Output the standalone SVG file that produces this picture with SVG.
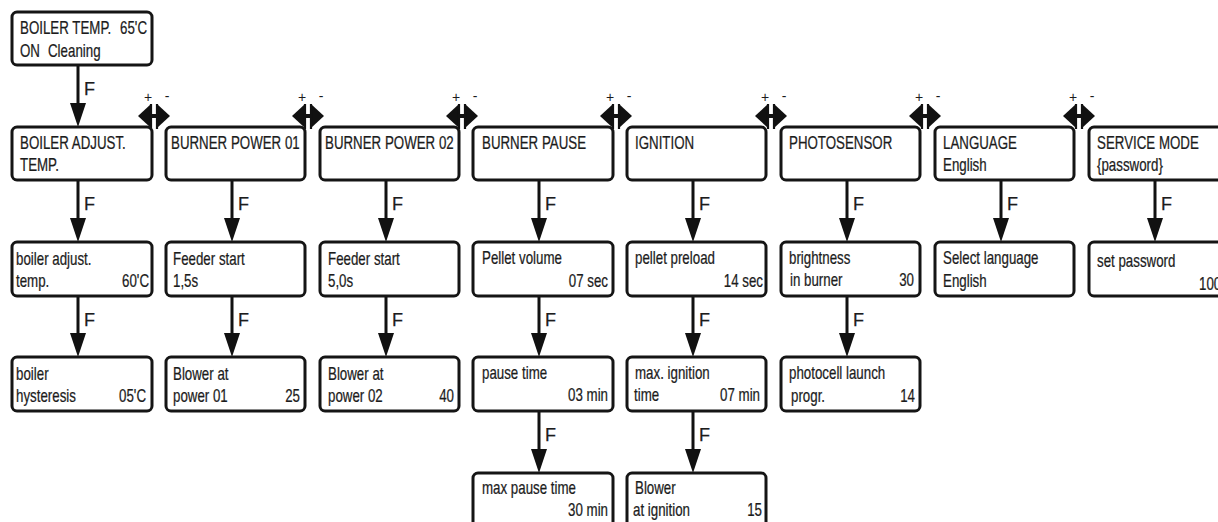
<svg xmlns="http://www.w3.org/2000/svg" width="1218" height="522" viewBox="0 0 1218 522">
<style>
.box{fill:#fff;stroke:#151515;stroke-width:3}
.t{font-family:"Liberation Sans",Arial,sans-serif;font-size:18px;fill:#1c1c1c;stroke:#1c1c1c;stroke-width:0.25}
.e{text-anchor:end}
.pm{font-family:"Liberation Sans",Arial,sans-serif;font-size:14px;fill:#1c1c1c;text-anchor:middle}
.ln{stroke:#111;stroke-width:3;fill:none}
.hd{fill:#111}
.hb{stroke:#111;stroke-width:2.2;fill:none}
</style>
<defs>
<g id="dbl"><polygon class="hd" points="0,116 13,104 13,128"/><polygon class="hd" points="32,116 19,104 19,128"/><path class="hb" d="M13 104V129M19 104V129"/><path d="M13 116H19" stroke="#111" stroke-width="4"/></g>
</defs>
<g id="connectors">
<path class="ln" d="M78 65V105M78 180V220M232 180V220M386 180V220M539 180V220M693 180V220M847 180V220M1001 180V220M1155 180V220M78 296V336M232 296V336M386 296V336M539 296V336M693 296V336M847 296V336M539 411V451M693 411V451"/>
<g class="hd">
<polygon points="70,103 86,103 78,127"/>
<polygon points="70,218 86,218 78,242"/><polygon points="224,218 240,218 232,242"/><polygon points="378,218 394,218 386,242"/><polygon points="531,218 547,218 539,242"/><polygon points="685,218 701,218 693,242"/><polygon points="839,218 855,218 847,242"/><polygon points="993,218 1009,218 1001,242"/><polygon points="1147,218 1163,218 1155,242"/>
<polygon points="70,333 86,333 78,357"/><polygon points="224,333 240,333 232,357"/><polygon points="378,333 394,333 386,357"/><polygon points="531,333 547,333 539,357"/><polygon points="685,333 701,333 693,357"/><polygon points="839,333 855,333 847,357"/>
<polygon points="531,449 547,449 539,473"/><polygon points="685,449 701,449 693,473"/>
</g>
<g class="t">
<text x="84" y="95">F</text>
<text x="84" y="210">F</text><text x="238" y="210">F</text><text x="392" y="210">F</text><text x="545" y="210">F</text><text x="699" y="210">F</text><text x="853" y="210">F</text><text x="1007" y="210">F</text><text x="1161" y="210">F</text>
<text x="84" y="326">F</text><text x="238" y="326">F</text><text x="392" y="326">F</text><text x="545" y="326">F</text><text x="699" y="326">F</text><text x="853" y="326">F</text>
<text x="545" y="441">F</text><text x="699" y="441">F</text>
</g>
<g id="nav">
<use href="#dbl" x="138"/><use href="#dbl" x="292"/><use href="#dbl" x="446"/><use href="#dbl" x="600"/><use href="#dbl" x="755"/><use href="#dbl" x="909"/><use href="#dbl" x="1063"/>
<text class="pm" x="148" y="102">+</text><text class="pm" x="167" y="101">-</text>
<text class="pm" x="302" y="102">+</text><text class="pm" x="321" y="101">-</text>
<text class="pm" x="456" y="102">+</text><text class="pm" x="475" y="101">-</text>
<text class="pm" x="610" y="102">+</text><text class="pm" x="629" y="101">-</text>
<text class="pm" x="765" y="102">+</text><text class="pm" x="784" y="101">-</text>
<text class="pm" x="919" y="102">+</text><text class="pm" x="938" y="101">-</text>
<text class="pm" x="1073" y="102">+</text><text class="pm" x="1092" y="101">-</text>
</g>
</g>

<g id="n-top"><rect class="box" x="12" y="12" width="140" height="53" rx="5"/>
<text class="t" transform="translate(20 34) scale(0.74 1)">BOILER TEMP.</text>
<text class="t e" transform="translate(147 34) scale(0.74 1)">65'C</text>
<text class="t" transform="translate(20 57) scale(0.74 1)">ON</text>
<text class="t" transform="translate(48 57) scale(0.74 1)">Cleaning</text></g>

<g id="n-r2c1"><rect class="box" x="12" y="127" width="140" height="53" rx="5"/>
<text class="t" transform="translate(20 149) scale(0.74 1)">BOILER ADJUST.</text>
<text class="t" transform="translate(20 171) scale(0.74 1)">TEMP.</text></g>
<g id="n-r2c2"><rect class="box" x="166" y="127" width="139" height="53" rx="5"/>
<text class="t" transform="translate(171 149) scale(0.74 1)">BURNER POWER 01</text></g>
<g id="n-r2c3"><rect class="box" x="320" y="127" width="139" height="53" rx="5"/>
<text class="t" transform="translate(325 149) scale(0.74 1)">BURNER POWER 02</text></g>
<g id="n-r2c4"><rect class="box" x="473" y="127" width="140" height="53" rx="5"/>
<text class="t" transform="translate(482 149) scale(0.74 1)">BURNER PAUSE</text></g>
<g id="n-r2c5"><rect class="box" x="627" y="127" width="139" height="53" rx="5"/>
<text class="t" transform="translate(635 149) scale(0.74 1)">IGNITION</text></g>
<g id="n-r2c6"><rect class="box" x="781" y="127" width="139" height="53" rx="5"/>
<text class="t" transform="translate(789 149) scale(0.74 1)">PHOTOSENSOR</text></g>
<g id="n-r2c7"><rect class="box" x="935" y="127" width="139" height="53" rx="5"/>
<text class="t" transform="translate(943 149) scale(0.74 1)">LANGUAGE</text>
<text class="t" transform="translate(943 171) scale(0.74 1)">English</text></g>
<g id="n-r2c8"><rect class="box" x="1089" y="127" width="145" height="53" rx="5"/>
<text class="t" transform="translate(1097 149) scale(0.74 1)">SERVICE MODE</text>
<text class="t" transform="translate(1097 171) scale(0.74 1)">{password}</text></g>

<g id="n-r3c1"><rect class="box" x="12" y="242" width="140" height="54" rx="5"/>
<text class="t" transform="translate(16 265) scale(0.74 1)">boiler adjust.</text>
<text class="t" transform="translate(16 287) scale(0.74 1)">temp.</text>
<text class="t e" transform="translate(149 287) scale(0.74 1)">60'C</text></g>
<g id="n-r3c2"><rect class="box" x="166" y="242" width="139" height="54" rx="5"/>
<text class="t" transform="translate(173 265) scale(0.74 1)">Feeder start</text>
<text class="t" transform="translate(173 287) scale(0.74 1)">1,5s</text></g>
<g id="n-r3c3"><rect class="box" x="320" y="242" width="139" height="54" rx="5"/>
<text class="t" transform="translate(328 265) scale(0.74 1)">Feeder start</text>
<text class="t" transform="translate(328 287) scale(0.74 1)">5,0s</text></g>
<g id="n-r3c4"><rect class="box" x="473" y="242" width="140" height="54" rx="5"/>
<text class="t" transform="translate(482 264) scale(0.74 1)">Pellet volume</text>
<text class="t e" transform="translate(608 287) scale(0.74 1)">07 sec</text></g>
<g id="n-r3c5"><rect class="box" x="627" y="242" width="139" height="54" rx="5"/>
<text class="t" transform="translate(635 264) scale(0.74 1)">pellet preload</text>
<text class="t e" transform="translate(763 287) scale(0.74 1)">14 sec</text></g>
<g id="n-r3c6"><rect class="box" x="781" y="242" width="139" height="54" rx="5"/>
<text class="t" transform="translate(789 264) scale(0.74 1)">brightness</text>
<text class="t" transform="translate(790 286) scale(0.74 1)">in burner</text>
<text class="t e" transform="translate(914 286) scale(0.74 1)">30</text></g>
<g id="n-r3c7"><rect class="box" x="935" y="242" width="139" height="54" rx="5"/>
<text class="t" transform="translate(943 264) scale(0.74 1)">Select language</text>
<text class="t" transform="translate(943 287) scale(0.74 1)">English</text></g>
<g id="n-r3c8"><rect class="box" x="1089" y="242" width="145" height="54" rx="5"/>
<text class="t" transform="translate(1097 267) scale(0.74 1)">set password</text>
<text class="t" transform="translate(1199 290) scale(0.74 1)">100</text></g>

<g id="n-r4c1"><rect class="box" x="12" y="357" width="140" height="54" rx="5"/>
<text class="t" transform="translate(16 380) scale(0.74 1)">boiler</text>
<text class="t" transform="translate(16 402) scale(0.74 1)">hysteresis</text>
<text class="t e" transform="translate(146 402) scale(0.74 1)">05'C</text></g>
<g id="n-r4c2"><rect class="box" x="166" y="357" width="139" height="54" rx="5"/>
<text class="t" transform="translate(173 380) scale(0.74 1)">Blower at</text>
<text class="t" transform="translate(173 402) scale(0.74 1)">power 01</text>
<text class="t e" transform="translate(300 402) scale(0.74 1)">25</text></g>
<g id="n-r4c3"><rect class="box" x="320" y="357" width="139" height="54" rx="5"/>
<text class="t" transform="translate(328 380) scale(0.74 1)">Blower at</text>
<text class="t" transform="translate(328 402) scale(0.74 1)">power 02</text>
<text class="t e" transform="translate(454 402) scale(0.74 1)">40</text></g>
<g id="n-r4c4"><rect class="box" x="473" y="357" width="140" height="54" rx="5"/>
<text class="t" transform="translate(482 379) scale(0.74 1)">pause time</text>
<text class="t e" transform="translate(608 401) scale(0.74 1)">03 min</text></g>
<g id="n-r4c5"><rect class="box" x="627" y="357" width="139" height="54" rx="5"/>
<text class="t" transform="translate(635 379) scale(0.74 1)">max. ignition</text>
<text class="t" transform="translate(634 401) scale(0.74 1)">time</text>
<text class="t e" transform="translate(760 401) scale(0.74 1)">07 min</text></g>
<g id="n-r4c6"><rect class="box" x="781" y="357" width="139" height="54" rx="5"/>
<text class="t" transform="translate(789 379) scale(0.74 1)">photocell launch</text>
<text class="t" transform="translate(791 402) scale(0.74 1)">progr.</text>
<text class="t e" transform="translate(915 402) scale(0.74 1)">14</text></g>

<g id="n-r5c4"><rect class="box" x="473" y="473" width="140" height="56" rx="5"/>
<text class="t" transform="translate(482 494) scale(0.74 1)">max pause time</text>
<text class="t e" transform="translate(608 516) scale(0.74 1)">30 min</text></g>
<g id="n-r5c5"><rect class="box" x="627" y="473" width="139" height="56" rx="5"/>
<text class="t" transform="translate(635 494) scale(0.74 1)">Blower</text>
<text class="t" transform="translate(633 516) scale(0.74 1)">at ignition</text>
<text class="t e" transform="translate(762 516) scale(0.74 1)">15</text></g>
</svg>
